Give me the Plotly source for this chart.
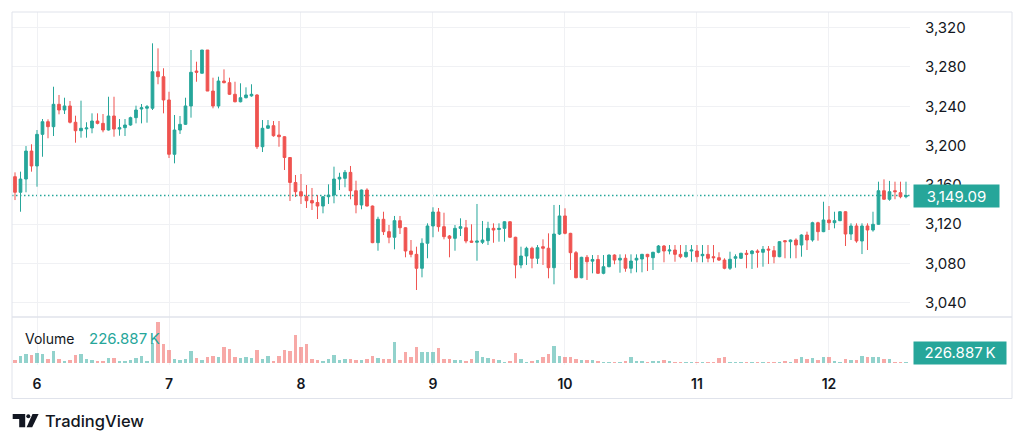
import pandas as pd
import plotly.graph_objects as go

# ---------------- data ----------------
start = "2025-01-05 20:00"
n_bars = 163

opens = [
3168.3, 3152.4, 3165.9, 3194.4, 3179.2, 3211.4, 3224.3, 3219.2, 3242.0, 3236.2,
3240.3, 3223.7, 3215.1, 3217.0, 3217.9, 3225.0, 3222.6, 3215.8, 3230.1, 3216.8,
3218.2, 3220.9, 3228.4, 3237.2, 3238.0, 3238.0, 3275.2, 3270.1, 3246.4, 3191.1,
3215.8, 3221.6, 3240.3, 3275.9, 3273.6, 3297.3, 3255.5, 3240.3, 3265.7, 3264.0,
3252.2, 3244.6, 3248.7, 3250.6, 3251.5, 3198.8, 3217.6, 3220.2, 3210.7, 3209.0,
3187.8, 3162.4, 3153.0, 3148.3, 3144.0, 3142.0, 3138.4, 3147.9, 3149.6, 3165.9,
3166.6, 3172.7, 3154.0, 3139.5, 3154.7, 3138.4, 3101.1, 3124.9, 3112.3, 3106.6,
3123.5, 3116.3, 3092.6, 3089.2, 3075.0, 3100.5, 3118.1, 3132.3, 3117.4, 3107.9,
3105.5, 3115.7, 3116.3, 3102.8, 3101.5, 3101.5, 3103.1, 3115.7, 3114.5, 3115.7,
3122.4, 3106.6, 3078.4, 3087.5, 3095.4, 3085.2, 3097.0, 3095.4, 3075.6, 3109.9,
3128.3, 3110.6, 3090.9, 3065.4, 3086.2, 3082.3, 3084.0, 3069.9, 3076.6, 3088.5,
3083.4, 3085.2, 3075.0, 3083.4, 3084.5, 3089.2, 3085.8, 3091.3, 3097.7, 3092.6,
3093.6, 3089.2, 3086.8, 3092.6, 3092.6, 3087.8, 3089.2, 3086.8, 3085.8, 3083.4,
3075.0, 3085.2, 3085.2, 3090.3, 3089.9, 3092.6, 3091.3, 3094.6, 3092.9, 3086.8,
3103.1, 3102.1, 3103.8, 3098.7, 3108.9, 3103.8, 3121.4, 3112.3, 3124.2, 3121.4,
3123.5, 3132.6, 3109.9, 3118.1, 3102.8, 3118.1, 3114.0, 3119.8, 3154.0, 3145.3,
3154.0, 3152.0, 3147.9]

highs = [
3172.7, 3173.4, 3199.5, 3201.3, 3215.8, 3227.0, 3226.7, 3259.9, 3251.5, 3248.7,
3245.4, 3230.4, 3245.7, 3223.7, 3232.8, 3232.8, 3232.1, 3249.7, 3249.7, 3227.0,
3227.0, 3229.4, 3240.6, 3242.3, 3241.3, 3304.1, 3299.0, 3278.7, 3254.8, 3231.1,
3230.1, 3248.7, 3297.3, 3285.4, 3297.3, 3297.3, 3269.1, 3270.1, 3277.6, 3269.1,
3265.0, 3263.4, 3259.3, 3262.4, 3252.3, 3226.0, 3226.0, 3225.0, 3225.0, 3209.5,
3188.3, 3170.0, 3171.0, 3159.8, 3156.8, 3149.6, 3148.3, 3160.5, 3178.5, 3172.3,
3175.1, 3179.2, 3164.2, 3155.2, 3156.5, 3138.9, 3127.5, 3132.6, 3119.1, 3128.3,
3128.3, 3116.8, 3103.8, 3097.0, 3105.5, 3120.8, 3137.1, 3136.4, 3131.6, 3108.9,
3119.1, 3125.9, 3124.2, 3119.8, 3140.5, 3123.2, 3122.4, 3120.8, 3120.8, 3122.9,
3122.9, 3107.1, 3097.0, 3097.0, 3097.0, 3098.7, 3104.5, 3110.6, 3139.5, 3139.5,
3136.1, 3111.1, 3092.6, 3086.7, 3088.5, 3088.5, 3088.5, 3088.5, 3089.0, 3089.2,
3089.2, 3089.2, 3089.2, 3089.2, 3089.7, 3089.7, 3091.8, 3098.7, 3098.7, 3098.7,
3098.7, 3098.7, 3098.7, 3098.7, 3098.7, 3098.7, 3098.7, 3098.7, 3091.3, 3085.2,
3091.9, 3089.2, 3090.8, 3093.6, 3093.6, 3094.3, 3097.7, 3097.7, 3097.7, 3102.6,
3103.8, 3104.3, 3105.5, 3109.6, 3112.3, 3122.4, 3122.4, 3142.8, 3138.4, 3132.6,
3133.1, 3133.1, 3120.8, 3120.8, 3120.8, 3120.8, 3132.6, 3163.2, 3165.6, 3164.0,
3163.2, 3163.2, 3163.2]

lows = [
3144.5, 3132.6, 3152.4, 3173.4, 3158.1, 3188.6, 3207.4, 3209.7, 3231.8, 3232.1,
3222.5, 3202.9, 3208.0, 3208.0, 3212.5, 3221.6, 3213.5, 3215.3, 3209.0, 3210.0,
3209.7, 3220.2, 3222.6, 3222.6, 3223.3, 3236.2, 3262.4, 3232.8, 3187.3, 3181.9,
3211.8, 3221.0, 3228.4, 3265.0, 3273.6, 3255.5, 3237.9, 3237.9, 3263.4, 3251.5,
3244.0, 3244.0, 3248.1, 3249.7, 3196.5, 3193.4, 3217.0, 3209.0, 3198.8, 3175.1,
3143.5, 3147.6, 3140.5, 3136.4, 3134.4, 3125.2, 3131.0, 3140.5, 3141.2, 3154.7,
3157.5, 3145.3, 3131.0, 3135.1, 3138.0, 3100.6, 3092.9, 3108.9, 3100.5, 3094.3,
3109.9, 3086.2, 3086.2, 3052.9, 3065.8, 3085.2, 3106.6, 3112.3, 3104.5, 3086.2,
3092.9, 3107.9, 3100.5, 3101.0, 3082.7, 3099.7, 3098.7, 3101.0, 3102.1, 3102.1,
3106.1, 3064.8, 3075.0, 3078.4, 3075.0, 3079.4, 3078.4, 3064.8, 3058.7, 3108.9,
3109.6, 3073.3, 3064.9, 3064.8, 3063.1, 3069.9, 3069.4, 3068.9, 3076.1, 3079.1,
3070.5, 3071.5, 3069.9, 3070.9, 3070.9, 3072.2, 3073.3, 3090.3, 3081.1, 3089.2,
3081.7, 3085.2, 3085.8, 3081.7, 3081.1, 3081.1, 3081.1, 3081.1, 3082.4, 3074.0,
3073.3, 3075.6, 3084.7, 3075.0, 3074.3, 3075.6, 3076.6, 3079.4, 3080.1, 3086.3,
3085.2, 3085.2, 3085.2, 3086.8, 3093.6, 3102.1, 3103.1, 3111.8, 3114.0, 3115.7,
3123.0, 3097.7, 3103.8, 3101.0, 3089.5, 3093.6, 3112.3, 3119.3, 3144.8, 3143.8,
3145.3, 3146.3, 3146.3]

closes = [
3152.4, 3165.9, 3194.4, 3179.2, 3211.4, 3224.3, 3219.2, 3242.0, 3236.2, 3240.3,
3223.7, 3215.1, 3217.6, 3217.9, 3225.0, 3222.6, 3215.8, 3230.1, 3216.8, 3218.2,
3220.9, 3228.4, 3236.2, 3238.5, 3239.6, 3275.2, 3270.1, 3246.4, 3191.1, 3215.8,
3221.6, 3240.3, 3274.6, 3274.6, 3297.3, 3255.5, 3240.3, 3265.7, 3264.0, 3252.2,
3244.6, 3248.7, 3251.5, 3252.2, 3198.8, 3217.6, 3220.2, 3210.0, 3209.0, 3187.8,
3162.4, 3153.0, 3148.6, 3143.8, 3141.5, 3138.4, 3147.9, 3149.6, 3165.9, 3167.7,
3172.7, 3154.0, 3139.5, 3154.7, 3138.4, 3101.1, 3124.9, 3112.3, 3106.6, 3123.5,
3116.3, 3092.6, 3089.2, 3075.0, 3100.5, 3118.1, 3132.3, 3117.4, 3107.2, 3105.5,
3115.7, 3117.4, 3102.8, 3101.5, 3102.8, 3103.8, 3115.7, 3114.0, 3115.7, 3122.4,
3106.6, 3078.4, 3087.5, 3095.4, 3085.2, 3096.0, 3095.4, 3075.6, 3109.9, 3128.3,
3110.6, 3090.9, 3065.4, 3086.2, 3081.7, 3084.0, 3069.9, 3076.6, 3088.5, 3083.4,
3085.2, 3075.0, 3082.4, 3085.2, 3089.2, 3086.8, 3091.3, 3097.7, 3092.6, 3093.6,
3089.2, 3086.8, 3091.3, 3093.6, 3086.8, 3089.2, 3085.2, 3085.8, 3083.4, 3075.0,
3084.2, 3086.8, 3090.3, 3089.2, 3092.6, 3091.3, 3094.3, 3093.6, 3086.8, 3102.1,
3102.1, 3103.8, 3098.7, 3108.9, 3103.8, 3121.4, 3112.3, 3124.2, 3121.4, 3123.5,
3132.6, 3109.9, 3118.1, 3102.8, 3118.1, 3114.0, 3119.8, 3154.0, 3145.3, 3153.0,
3153.0, 3147.9, 3149.09]

volumes_k = [
608, 1575, 1868, 1733, 2093, 2025, 900, 2543, 900, 450,
608, 1800, 1868, 833, 608, 450, 293, 1058, 1125, 450,
450, 518, 1125, 1508, 293, 4343, 9068, 4118, 2858, 743,
608, 833, 2543, 1125, 608, 1193, 1508, 1350, 3600, 3083,
1193, 968, 1193, 1125, 2858, 743, 1508, 293, 1508, 2858,
2543, 6233, 3443, 4208, 900, 608, 383, 743, 1643, 608,
900, 833, 608, 518, 900, 1508, 1058, 833, 900, 4658,
608, 2408, 1350, 3600, 2475, 2318, 2475, 3375, 900, 743,
608, 608, 450, 743, 2633, 1193, 968, 743, 608, 225,
450, 2250, 743, 225, 450, 608, 1350, 1958, 3758, 1508,
1350, 1350, 743, 608, 608, 608, 450, 225, 225, 225,
225, 450, 1193, 293, 293, 225, 293, 293, 518, 383,
225, 225, 225, 225, 225, 225, 225, 225, 968, 1350,
225, 225, 225, 225, 225, 225, 225, 225, 225, 225,
383, 225, 743, 1350, 743, 968, 608, 1350, 1193, 383,
225, 743, 608, 608, 1508, 1350, 1350, 1350, 900, 743,
225, 225, 226.887]

price_ticks = [3040, 3080, 3120, 3160, 3200, 3240, 3280, 3320]

times = pd.date_range(start, periods=n_bars, freq="h")

# ---------------- style ----------------
UP = "#26a69a"
DOWN = "#ef5350"
UP_VOL = "rgba(38,166,154,0.5)"
DOWN_VOL = "rgba(239,83,80,0.5)"
GRID = "#f0f1f4"
BORDER = "#e0e3eb"
TEXT = "#131722"
FONT = "Inter"

W, H = 1024, 445
PL, PR, PT, PB = 12, 910, 12, 365  # plot area in pixels


def px(x):
    return (x - PL) / (PR - PL)


def py(y):
    return (PB - y) / (PB - PT)


vol_colors = [UP_VOL if c >= o else DOWN_VOL for o, c in zip(opens, closes)]
last_up = closes[-1] >= opens[-1]
last_col = UP if last_up else DOWN

fig = go.Figure()
fig.add_trace(go.Candlestick(
    x=times, open=opens, high=highs, low=lows, close=closes,
    increasing=dict(line=dict(color=UP, width=1), fillcolor=UP),
    decreasing=dict(line=dict(color=DOWN, width=1), fillcolor=DOWN),
    whiskerwidth=0, xaxis="x", yaxis="y", showlegend=False, hoverinfo="skip",
))
fig.add_trace(go.Bar(
    x=times, y=volumes_k, marker=dict(color=vol_colors, line=dict(width=0)),
    width=0.72 * 3600 * 1000, xaxis="x", yaxis="y2", showlegend=False,
    hoverinfo="skip",
))

hour = pd.Timedelta(hours=1)
x0 = times[0] - 0.545 * hour
x1 = times[0] + 162.73 * hour

split = py(317)

shapes = []
# last price dotted line
shapes.append(dict(type="line", xref="paper", yref="y", x0=0, x1=1,
                   y0=closes[-1], y1=closes[-1],
                   line=dict(color=last_col, width=1.5, dash="1.5px,2.5px"), layer="below"))
# outer frame
shapes.append(dict(type="rect", xref="paper", yref="paper",
                   x0=px(12), x1=px(1012), y0=py(398.5), y1=py(12),
                   line=dict(color=BORDER, width=1), fillcolor="rgba(0,0,0,0)"))
# pane separator
shapes.append(dict(type="line", xref="paper", yref="paper",
                   x0=px(12), x1=px(1012), y0=py(317), y1=py(317),
                   line=dict(color=BORDER, width=1.5)))

# TradingView logo
logo_col = TEXT
shapes.append(dict(type="path", xref="paper", yref="paper",
                   path=("M {a},{b} L {c},{b} L {c},{d} L {e},{d} L {e},{f} L {a},{f} Z").format(
                       a=px(12.7), b=py(414), c=px(25.2), d=py(427.3), e=px(19.2), f=py(419)),
                   fillcolor=logo_col, line=dict(width=0)))
shapes.append(dict(type="circle", xref="paper", yref="paper",
                   x0=px(26.3), x1=px(30.3), y0=py(418.3), y1=py(414.3),
                   fillcolor=logo_col, line=dict(width=0)))
shapes.append(dict(type="path", xref="paper", yref="paper",
                   path=("M {a},{t} L {b},{t} L {c},{u} L {d},{u} Z").format(
                       a=px(32.5), b=px(38.6), c=px(32.2), d=px(26.6), t=py(414), u=py(427.3)),
                   fillcolor=logo_col, line=dict(width=0)))

annotations = [
    # last price label (drawn over the partly hidden 3,160 tick, as in the original)
    dict(xref="paper", yref="y", x=px(913), y=closes[-1], xanchor="left", yanchor="middle",
         text="{:,.2f}".format(closes[-1]), showarrow=False, bgcolor=last_col,
         font=dict(family=FONT, size=15, color="white"), width=81, height=18,
         borderpad=2, align="center"),
    # volume label on axis
    dict(xref="paper", yref="paper", x=px(913), y=py(352.7), xanchor="left", yanchor="middle",
         text="{:,.3f}\u202fK".format(volumes_k[-1]), showarrow=False, bgcolor=last_col,
         font=dict(family=FONT, size=15, color="white"), width=88, height=17.5,
         borderpad=2, align="center"),
    # volume legend
    dict(xref="paper", yref="paper", x=px(22.5), y=py(338), xanchor="left", yanchor="middle",
         text="Volume", showarrow=False, font=dict(family=FONT, size=14, color=TEXT)),
    dict(xref="paper", yref="paper", x=px(86.5), y=py(338), xanchor="left", yanchor="middle",
         text="{:,.3f}\u202fK".format(volumes_k[-1]), showarrow=False,
         font=dict(family=FONT, size=15, color=last_col)),
    # TradingView wordmark
    dict(xref="paper", yref="paper", x=px(42.5), y=py(421), xanchor="left", yanchor="middle",
         text="TradingView", showarrow=False,
         font=dict(family=FONT, size=16.5, color=TEXT, weight=500)),
]

fig.update_layout(
    width=W, height=H,
    margin=dict(l=PL, r=W - PR, t=PT, b=H - PB, pad=0),
    paper_bgcolor="white", plot_bgcolor="white",
    font=dict(family=FONT, color=TEXT),
    showlegend=False, hovermode=False,
    bargap=0,
    xaxis=dict(
        type="date", range=[x0, x1], anchor="y2",
        rangeslider=dict(visible=False),
        tick0=times[4], dtick=86400000, tickformat="%-d",
        showgrid=True, gridcolor=GRID, gridwidth=1,
        zeroline=False, showline=False, ticks="",
        ticklabelstandoff=9,
        tickfont=dict(family=FONT, size=14, color=TEXT, weight=600),
    ),
    yaxis=dict(
        domain=[split, 1], side="right", range=[3025.4, 3336.0],
        tickvals=price_ticks, tickformat=",.0f",
        showgrid=True, gridcolor=GRID, gridwidth=1,
        zeroline=False, showline=False, ticks="",
        ticklabelstandoff=14,
        tickfont=dict(family=FONT, size=15, color=TEXT),
    ),
    yaxis2=dict(
        domain=[0, split], range=[-518, 10283], anchor="x",
        showgrid=False, zeroline=False, showline=False,
        showticklabels=False, ticks="",
    ),
    shapes=shapes,
    annotations=annotations,
)

fig.write_html("out.html")
